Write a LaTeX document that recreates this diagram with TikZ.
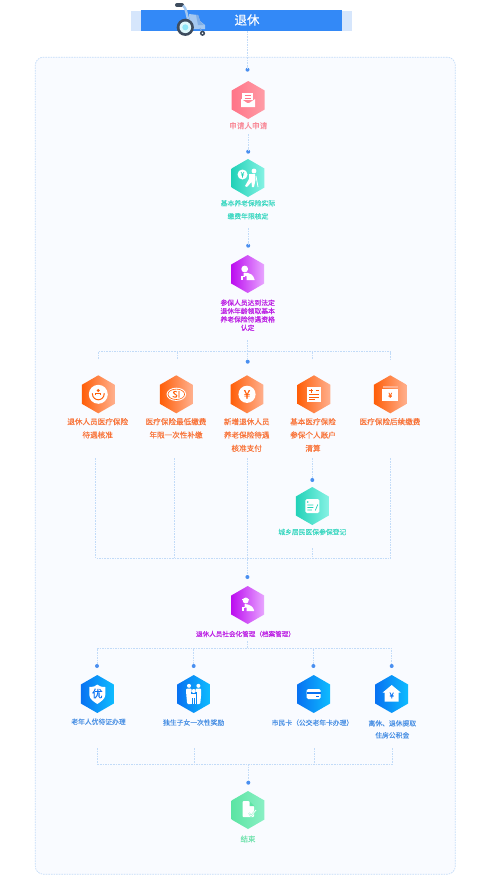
\documentclass[tikz,border=0pt]{standalone}
\usepackage{fontspec}
\setmainfont[FakeBold=0.15]{Noto Sans CJK SC}
\usetikzlibrary{shapes.geometric}
\definecolor{lineblue}{HTML}{C2DBF8}
\definecolor{dotblue}{HTML}{4A8FF0}
\definecolor{paneltint}{HTML}{F9FBFF}
\definecolor{barblue}{HTML}{3389F7}
\definecolor{barpale}{HTML}{D6E6FC}
\definecolor{chairdark}{HTML}{3E4C5E}
\definecolor{chairframe}{HTML}{A4C8F0}
\definecolor{chairseat}{HTML}{7FAEE6}
\definecolor{chairhub}{HTML}{8FE6F6}
\definecolor{pinkA}{HTML}{FF7488}
\definecolor{pinkB}{HTML}{FF9CA6}
\definecolor{tealA}{HTML}{22D2B8}
\definecolor{tealB}{HTML}{86F2E4}
\definecolor{purpleA}{HTML}{BC0CF0}
\definecolor{purpleB}{HTML}{E8A6FF}
\definecolor{orangeA}{HTML}{FF5E08}
\definecolor{orangeB}{HTML}{FFB08E}
\definecolor{blueA}{HTML}{0872F2}
\definecolor{blueB}{HTML}{0EBCFF}
\definecolor{greenA}{HTML}{5CE4A4}
\definecolor{greenB}{HTML}{8AF0C4}
\definecolor{txtpink}{HTML}{F88C9A}
\definecolor{txtteal}{HTML}{3ED8C2}
\definecolor{txtpurple}{HTML}{BC20E4}
\definecolor{txtorange}{HTML}{F8743A}
\definecolor{txtblue}{HTML}{4A90E4}
\definecolor{txtgreen}{HTML}{6EE2AC}
\tikzset{
    flow/.style={draw=lineblue, line width=.7pt, dash pattern=on 1.6pt off 1pt},
    panel/.style={draw=lineblue, fill=paneltint, line width=.7pt, dash pattern=on 1.6pt off 1pt,
        rounded corners=8pt, minimum width=420pt, minimum height=817pt, inner sep=0pt},
    joint/.style={circle, fill=dotblue, minimum size=4pt, inner sep=0pt, outer sep=0pt},
    hex/.style 2 args={regular polygon, regular polygon sides=6, regular polygon rotate=30,
        minimum size=38pt, inner sep=0pt, outer sep=0pt, shading=axis, shading angle=90,
        left color=#1, right color=#2},
    caption/.style={text=#1, align=center, inner sep=0pt,
        font=\fontsize{6.8}{13}\selectfont},
    wide/.style={text=txtorange, align=center, inner sep=0pt,
        font=\fontsize{7.6}{13.3}\selectfont},
    icon/.style={fill=white, draw=none},
}
\begin{document}
\begin{tikzpicture}[x=1pt, y=-1pt]
    \useasboundingbox (0,0) rectangle (481,892);

    \node [panel] (body) at (245.3,465.7) {};

    \node [fill=barpale, minimum width=221pt, minimum height=20pt, inner sep=0pt] (barback) at (241.5,21) {};
    \node [fill=barblue, minimum width=201pt, minimum height=21.5pt, inner sep=0pt] (bar) at (241.5,20.3) {};
    \node [text=white, inner sep=0pt, font=\fontsize{12.5}{14}\selectfont] (title) at (247,20) {退休};

    \node [joint] (dotApply) at (247.5,69.7) {};
    \node [hex={pinkA}{pinkB}] (hexApply) at (248.2,100) {};
    \node [caption=txtpink, font=\fontsize{7.6}{8}\selectfont] (labApply) at (248.2,125.7) {申请人申请};

    \node [joint] (dotVerify) at (248.2,151.7) {};
    \node [hex={tealA}{tealB}] (hexVerify) at (248,178) {};
    \node [caption=txtteal] (labVerify) at (248,209.7) {基本养老保险实际\\缴费年限核定};

    \node [joint] (dotQualify) at (248.2,245.7) {};
    \node [hex={purpleA}{purpleB}] (hexQualify) at (247.7,274) {};
    \node [caption=txtpurple, font=\fontsize{6.8}{8.35}\selectfont] (labQualify) at (247.7,315.2)
        {参保人员达到法定\\退休年龄领取基本\\养老保险待遇资格\\认定};

    \node [joint] (dotNewpay) at (247.7,361.7) {};

    \node [hex={orangeA}{orangeB}] (hexCare) at (98.3,394.3) {};
    \node [hex={orangeA}{orangeB}] (hexLowest) at (176.3,394.3) {};
    \node [hex={orangeA}{orangeB}] (hexNewpay) at (247,394.3) {};
    \node [hex={orangeA}{orangeB}] (hexAccount) at (314,394.3) {};
    \node [hex={orangeA}{orangeB}] (hexLater) at (390.3,394.3) {};
    \node [wide] (labCare) at (97.7,428.3) {退休人员医疗保险\\待遇核准};
    \node [wide] (labLowest) at (176,428.3) {医疗保险最低缴费\\年限一次性补缴};
    \node [wide] (labNewpay) at (246.7,435) {新增退休人员\\养老保险待遇\\核准支付};
    \node [wide] (labAccount) at (313,435) {基本医疗保险\\参保个人账户\\清算};
    \node [wide] (labLater) at (390,421.7) {医疗保险后续缴费};

    \node [joint] (dotResident) at (312.3,480) {};
    \node [hex={tealA}{tealB}] (hexResident) at (312.3,506) {};
    \node [caption=txtteal] (labResident) at (312.3,532) {城乡居民医保参保登记};

    \node [joint] (dotArchive) at (247.4,577) {};
    \node [hex={purpleA}{purpleB}] (hexArchive) at (247.7,605) {};
    \node [caption=txtpurple, font=\fontsize{6.6}{8}\selectfont] (labArchive) at (245.5,634) {退休人员社会化管理（档案管理）};

    \node [joint] (dotElder) at (97,666) {};
    \node [joint] (dotChild) at (193.7,666) {};
    \node [joint] (dotCard) at (313.4,666) {};
    \node [joint] (dotFund) at (391.7,666) {};
    \node [hex={blueA}{blueB}] (hexElder) at (97.3,694) {};
    \node [hex={blueA}{blueB}] (hexChild) at (193.7,694) {};
    \node [hex={blueA}{blueB}] (hexCard) at (313.7,694) {};
    \node [hex={blueA}{blueB}] (hexFund) at (391.7,694) {};
    \node [caption=txtblue] (labElder) at (98.5,721.7) {老年人优待证办理};
    \node [caption=txtblue] (labChild) at (193.7,722.5) {独生子女一次性奖励};
    \node [caption=txtblue] (labCard) at (312.5,722.7) {市民卡（公交老年卡办理）};
    \node [caption=txtblue, font=\fontsize{6.8}{12}\selectfont] (labFund) at (392.3,729.3) {离休、退休提取\\住房公积金};

    \node [joint] (dotFinish) at (248.3,782.7) {};
    \node [hex={greenA}{greenB}] (hexFinish) at (248,810) {};
    \node [caption=txtgreen, font=\fontsize{7.4}{8}\selectfont] (labFinish) at (248,839) {结束};

    \coordinate (stemVerify) at (248.2,134);
    \coordinate (stemQualify) at (248.2,228);
    \coordinate (stemBranch) at (247.7,340);
    \coordinate (busTop) at (247.7,351.7);
    \coordinate (tickCare) at (98,359);
    \coordinate (tickLowest) at (177,359);
    \coordinate (tickAccount) at (312.3,359);
    \coordinate (tickLater) at (390.7,359);
    \coordinate (dropCare) at (95.8,458);
    \coordinate (dropLowest) at (174.3,458);
    \coordinate (dropNewpay) at (247.4,458);
    \coordinate (dropAccount) at (312.3,458);
    \coordinate (dropLater) at (390.3,458);
    \coordinate (stemResident) at (312.3,548);
    \coordinate (busMid) at (247.4,558.7);
    \coordinate (stemArchive) at (247.4,641);
    \coordinate (busLow) at (247.4,648.3);
    \coordinate (riseElder) at (97.7,748);
    \coordinate (riseChild) at (194.3,748);
    \coordinate (riseCard) at (314.3,748);
    \coordinate (riseFund) at (392.3,748);
    \coordinate (busEnd) at (248.3,764);

    \draw [flow]
        (bar.south -| dotApply) -- (dotApply)
        (stemVerify) -- (dotVerify)
        (stemQualify) -- (dotQualify)
        (stemBranch) -- (dotNewpay)
        (tickCare) |- (busTop) -| (tickLater)
        (tickLowest) -- (tickLowest |- busTop)
        (tickAccount) -- (tickAccount |- busTop)
        ;
    \draw [flow]
        (dropCare) |- (busMid) -| (dropLater)
        (dropLowest) -- (dropLowest |- busMid)
        (dropNewpay) -- (dotArchive)
        (dropAccount) -- (dotResident)
        (stemResident) -- (stemResident |- busMid)
        ;
    \draw [flow]
        (stemArchive) -- (busLow)
        (dotElder) |- (busLow) -| (dotFund)
        (dotChild) -- (dotChild |- busLow)
        (dotCard) -- (dotCard |- busLow)
        ;
    \draw [flow]
        (riseElder) |- (busEnd) -| (riseFund)
        (riseChild) -- (riseChild |- busEnd)
        (riseCard) -- (riseCard |- busEnd)
        (busEnd) -- (dotFinish)
        ;

    % wheelchair
    \draw [line width=4pt, color=chairdark, line cap=round] (177,5) -- (182,5);
    \draw [line width=2.4pt, color=chairframe] (183,5.5) .. controls (187,8) and (186,16) .. (190,24);
    \fill [color=chairframe] (189,14) -- (198,15) -- (200,21) -- (205,25) -- (205,29) -- (190,29) -- cycle;
    \fill [color=chairseat] (196,15) -- (198,15) -- (200,21) -- (204,25) -- (198,25) -- cycle;
    \draw [line width=1pt, color=chairseat] (200,28) -- (202.5,33);
    \fill [color=chairdark] (185.3,27.3) circle (8.6);
    \fill [color=white!70!chairhub] (185.3,27.3) circle (5.8);
    \fill [color=chairhub] (185.3,27.3) circle (3);
    \fill [color=chairdark] (202.5,33.3) circle (2.6);
    \fill [white] (202.5,33.3) circle (.9);

    \begin{scope}[shift={(hexApply.center)}]
        \fill [icon] (-6,-7) rectangle (5,0);
        \fill [icon] (-7,-1) -- (-1,3) -- (1,3) -- (7,-1) -- (7,7) -- (-7,7) -- cycle;
        \draw [pinkA, line width=.6pt] (-3.5,-4.5) -- (2.5,-4.5) (-3.5,-2) -- (2.5,-2);
    \end{scope}

    \begin{scope}[shift={(hexVerify.center)}]
        \fill [icon] (-5.5,-3.5) circle (5);
        \fill [icon] (6,-7) circle (2.4);
        \fill [icon] (1,-4) -- (7,-4) -- (7.5,2) -- (6,9) -- (4,9) -- (3.5,4) -- (-1,9) -- (-3,8) -- (1,1) -- cycle;
        \draw [white, line width=.8pt] (8,-2) -- (10,9);
        \draw [tealA, line width=.6pt] (-7,-6) -- (-5.5,-3.5) -- (-4,-6) (-7,-3) -- (-4,-3) (-5.5,-3.5) -- (-5.5,-.5);
    \end{scope}

    \begin{scope}[shift={(hexQualify.center)}]
        \fill [icon] (-3,-5) circle (3.4);
        \fill [icon] (-4,-1) .. controls (2,-2) and (6,1) .. (7,6) -- (-1,6) -- (-1,2) -- (-4,2) -- cycle;
        \fill [icon] (-6.5,2) rectangle (-5,6);
        \fill [icon] (-6.5,1.5) rectangle (-3,2.7);
    \end{scope}

    \begin{scope}[shift={(hexCare.center)}]
        \fill [icon] (0,0) circle (9.5);
        \fill [orangeA] (0,-3.8) circle (1.6);
        \draw [orangeA, line width=.9pt] (-2.5,1) -- (-2.5,-1) -- (2.5,-1) -- (2.5,1);
        \draw [orangeA, line width=1pt] (-6,-1) .. controls (-6,4) and (-2,5.5) .. (0,5.5) .. controls (2,5.5) and (6,4) .. (6,-1);
    \end{scope}

    \begin{scope}[shift={(hexLowest.center)}]
        \fill [icon] (0,0) ellipse (9.8 and 6.6);
        \draw [orangeA, line width=.6pt] (0,0) ellipse (8.3 and 5.2);
        \node [text=orangeA, inner sep=0pt, font=\fontsize{9}{9}\selectfont] (markSi) at (0,0) {SI};
    \end{scope}

    \begin{scope}[shift={(hexNewpay.center)}]
        \fill [icon] (0,0) circle (8.6);
        \node [text=orangeA, inner sep=0pt, font=\fontsize{12}{12}\selectfont] (markYuan) at (0,0) {¥};
    \end{scope}

    \begin{scope}[shift={(hexAccount.center)}]
        \fill [icon] (-7,-7.5) rectangle (7,7.5);
        \draw [orangeA, line width=.8pt] (-5,-3.5) -- (-1,-3.5) (-3,-5.5) -- (-3,-1.5) (1.5,-3.5) -- (5,-3.5)
            (-5,.5) -- (5,.5) (-5,3) -- (5,3) (-5,5.5) -- (1,5.5);
    \end{scope}

    \begin{scope}[shift={(hexLater.center)}]
        \fill [orangeB] (-7.5,-8) rectangle (7.5,-6);
        \fill [icon] (-8,-5) rectangle (8,7);
        \node [text=orangeA, inner sep=0pt, font=\fontsize{7}{7}\selectfont] (markFee) at (0,1) {¥};
    \end{scope}

    \begin{scope}[shift={(hexResident.center)}]
        \fill [icon, rounded corners=1.5pt] (-7,-7) rectangle (7,7);
        \fill [tealA] (-4.5,-4) circle (.9);
        \draw [tealA, line width=.7pt] (-5,-1) -- (1,-1) (-5,1.5) -- (1,1.5) (-5,4) -- (-.5,4) (3,4.5) -- (5.5,-1.5);
    \end{scope}

    \begin{scope}[shift={(hexArchive.center)}]
        \fill [icon] (-2,-4.5) circle (3);
        \fill [icon] (-5.5,-6) rectangle (1,-5);
        \fill [icon] (-3,-1) .. controls (2,-1) and (6,2) .. (6.5,6) -- (-1,6) -- (-1,2.5) -- (-3,2.5) -- cycle;
        \fill [icon] (-5.5,2) rectangle (-4,6);
        \fill [icon] (-5.5,1.5) rectangle (-2.5,2.6);
    \end{scope}

    \begin{scope}[shift={(hexElder.center)}]
        \fill [icon] (-8,-7) .. controls (-4,-7) and (-1,-8) .. (0,-9.5) .. controls (1,-8) and (4,-7) .. (8,-7)
            -- (8,1) .. controls (8,5) and (3,8) .. (0,10) .. controls (-3,8) and (-8,5) .. (-8,1) -- cycle;
        \node [text=blueA, inner sep=0pt, font=\fontsize{10.5}{11}\selectfont] (markYou) at (0,-.5) {优};
    \end{scope}

    \begin{scope}[shift={(hexChild.center)}]
        \fill [icon] (-4.7,-8.2) circle (2);
        \fill [icon] (4.7,-8.2) circle (2);
        \fill [icon, rounded corners=1pt] (-7.5,-5.5) -- (-2,-5.5) -- (-2,10) -- (-6.5,10) -- (-7.5,0) -- cycle;
        \fill [icon, rounded corners=1pt] (2,-5.5) -- (7.5,-5.5) -- (7.5,0) -- (6.5,10) -- (2,10) -- cycle;
        \fill [blueA!70!blueB] (-3,-2) rectangle (3,10);
        \fill [icon] (0,-3) circle (2);
        \fill [icon] (-2.5,-.5) rectangle (2.5,4);
        \draw [white, line width=.7pt] (-2,4) -- (-2,10) (0,4) -- (0,10) (2,4) -- (2,10);
    \end{scope}

    \begin{scope}[shift={(hexCard.center)}]
        \fill [icon, rounded corners=1.5pt] (-7,-5) rectangle (7,5);
        \fill [blueA] (-7,-2.2) rectangle (7,-.4);
        \fill [blueA] (2,2) rectangle (5.5,3);
    \end{scope}

    \begin{scope}[shift={(hexFund.center)}]
        \fill [icon] (0,-9) -- (9,-1.5) -- (7,-1.5) -- (7,7.5) -- (-7,7.5) -- (-7,-1.5) -- (-9,-1.5) -- cycle;
        \node [text=blueA, inner sep=0pt, font=\fontsize{8}{8}\selectfont] (markHome) at (0,1.5) {¥};
    \end{scope}

    \begin{scope}[shift={(hexFinish.center)}]
        \fill [icon, rounded corners=1pt] (-5.5,-9) -- (1,-9) -- (6,-4) -- (6,7) -- (-5.5,7) -- cycle;
        \fill [greenA] (1.5,-9) -- (1.5,-4) -- (6.5,-4) -- cycle;
        \draw [greenB, line width=1.6pt] (1,3) -- (3,6) -- (8,0);
        \draw [white, line width=.7pt] (1,3) -- (3,6) -- (8,0);
    \end{scope}
\end{tikzpicture}
\end{document}
